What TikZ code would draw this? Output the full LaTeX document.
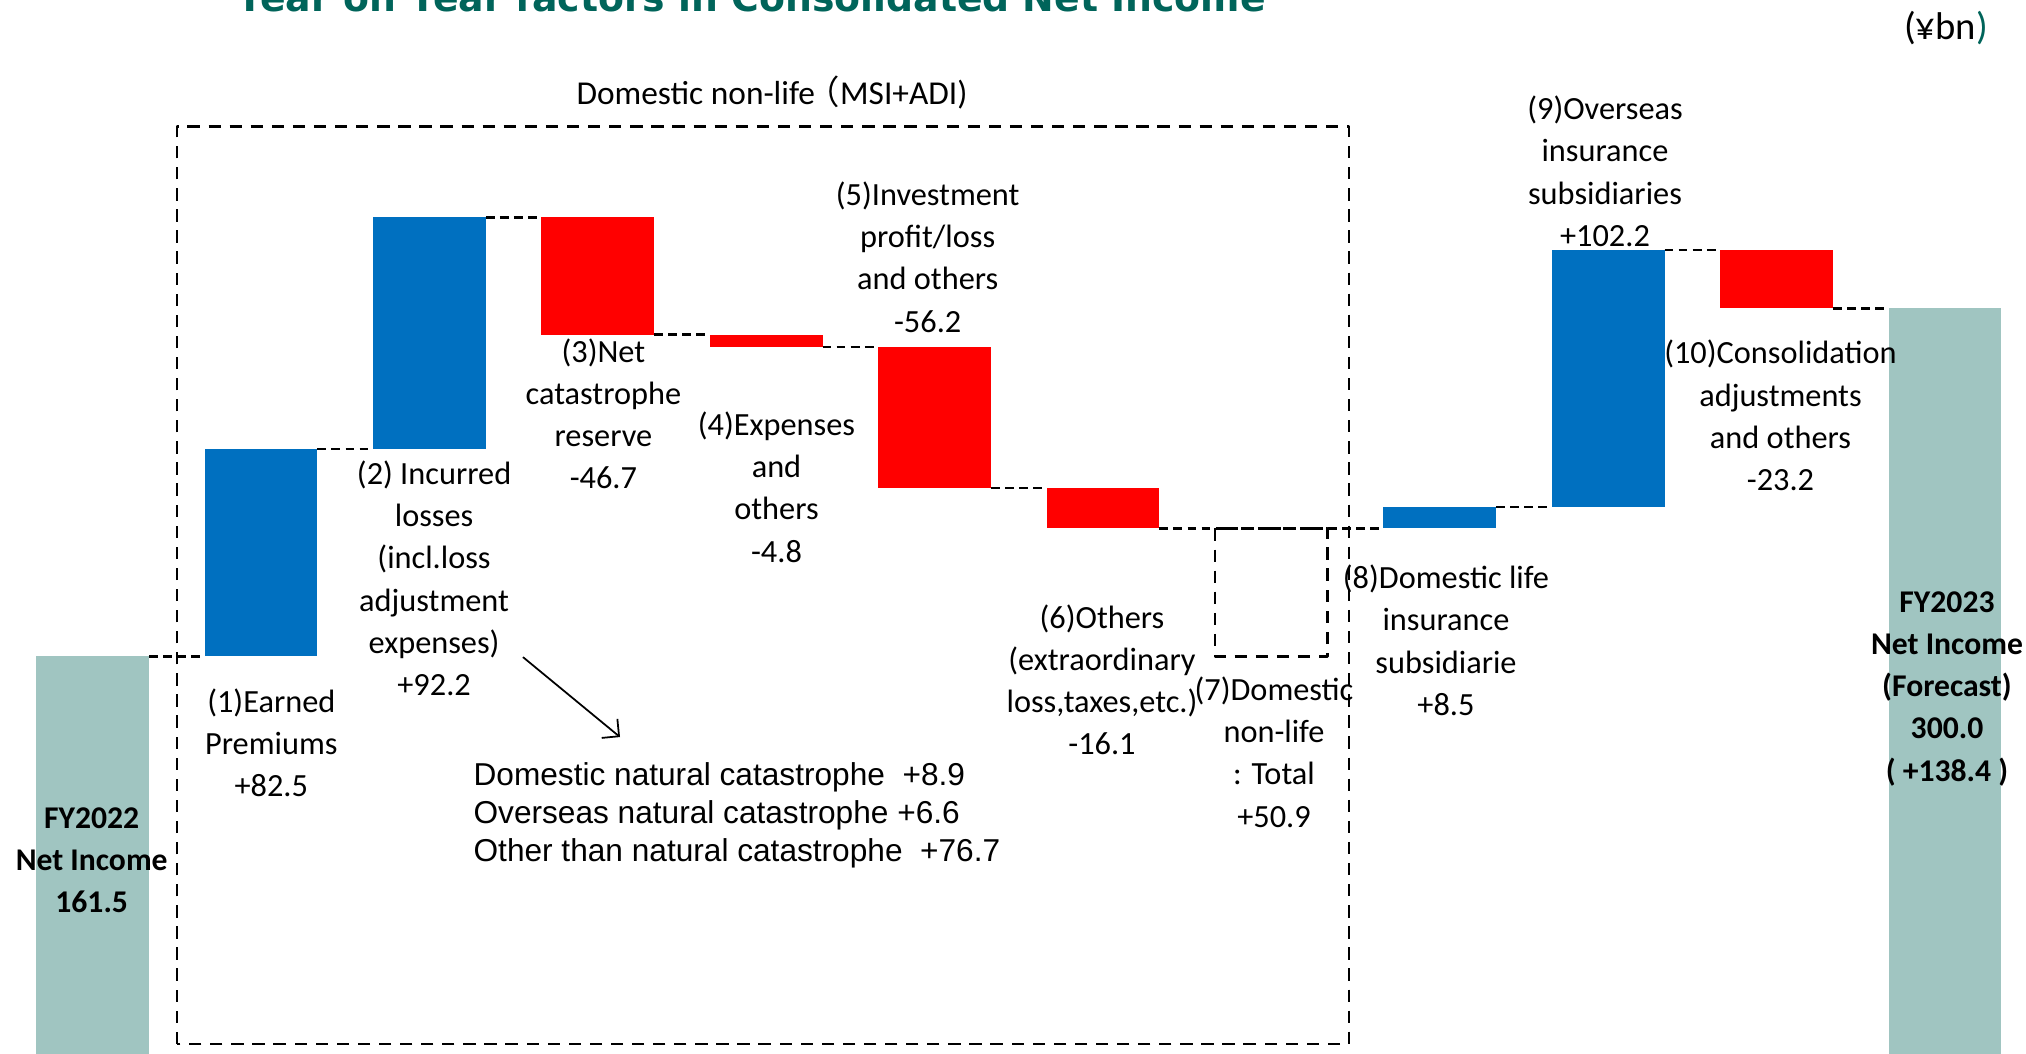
\documentclass[tikz,border=0pt]{standalone}
\usepackage{fontspec}
\setmainfont{Carlito}
\newfontfamily\arialfont{Liberation Sans}
\newfontfamily\titlefont{DejaVu Sans}
\newfontfamily\cjkfont{Noto Sans CJK JP}
\usetikzlibrary{arrows.meta}
\definecolor{gainblue}{HTML}{0070C0}
\definecolor{lossred}{HTML}{FF0000}
\definecolor{totalteal}{HTML}{A0C5C1}
\definecolor{titleteal}{HTML}{00645A}
\begin{document}
\begin{tikzpicture}[y=0.02513cm, line join=round, >={Straight Barb[length=3.5pt,width=7pt]},
	gainbar/.style={fill=gainblue},
	lossbar/.style={fill=lossred},
	totalbar/.style={fill=totalteal},
	link/.style={dash pattern=on 2.5pt off 1.5pt, line width=0.7pt},
	groupbox/.style={dash pattern=on 3.5pt off 2.5pt, line width=0.8pt},
	lbl/.style={font=\fontsize{9.2}{12}\selectfont, align=center, inner sep=0pt},
	totlbl/.style={font=\fontsize{9}{12}\selectfont\bfseries, align=center, inner sep=0pt}]
			\useasboundingbox (0,3.661) rectangle (20.26,422.68);
			\def\xo{0.362}
			\def\pitch{1.684}
			\def\bw{1.128}
			\foreach\i/\a/\b/\kind in {0/0/161.5/totalbar,1/161.5/244.0/gainbar,2/244.0/336.2/gainbar,3/336.2/289.5/lossbar,4/289.5/284.7/lossbar,5/284.7/228.5/lossbar,6/228.5/212.4/lossbar,8/212.4/220.9/gainbar,9/220.9/323.1/gainbar,10/323.1/300.0/lossbar,11/300.0/0/totalbar}
			{\coordinate (a\i) at ({\xo+\i*\pitch},\a);
				\coordinate (b\i) at ({\xo+\i*\pitch+\bw},\b);
				\fill[\kind] (a\i) rectangle (b\i);
			}
			\coordinate (a7) at ({\xo+7*\pitch},212.4);
			\coordinate (b7) at ({\xo+7*\pitch+\bw},161.5);
			\draw[groupbox] (a7) rectangle (b7);
			\foreach\i/\j in {0/1,1/2,2/3,3/4,4/5,5/6,6/8,8/9,9/10,10/11}
			\draw[link] (b\i)--(a\j);
			\draw[groupbox] (1.770,7.24) rectangle (13.489,372.3);
			\node[anchor=base, inner sep=0pt, text=titleteal, font=\titlefont\bfseries\fontsize{10.75}{13}\selectfont] (title) at (7.51,418.1) {Year on Year factors in Consolidated Net Income};
			\node[font=\fontsize{11}{13}\selectfont, inner sep=0pt] (unit) at (19.46,411.4) {(¥bn\textcolor{titleteal}{)}};
			\node[lbl, font=\fontsize{9.5}{12}\selectfont] (group) at (7.72,385.7) {Domestic non-life\hspace{-0.25em}{\cjkfont （}MSI+ADI)};
			\node[totlbl] (fy22) at (0.917,80.25) {FY2022\\Net Income\\161.5};
			\node[lbl] (lab1) at (2.713,127.0) {(1)Earned\\Premiums\\+82.5};
			\node[lbl] (lab2) at (4.341,192.6) {(2) Incurred\\losses\\(incl.loss\\adjustment\\expenses)\\+92.2};
			\node[lbl] (lab3) at (6.034,258.1) {(3)Net\\catastrophe\\reserve\\-46.7};
			\node[lbl] (lab4) at (7.765,228.85) {(4)Expenses\\and\\others\\-4.8};
			\node[lbl] (lab5) at (9.277,320.36) {(5)Investment\\profit/loss\\and others\\-56.2};
			\node[lbl] (lab6) at (11.02,152.2) {(6)Others\\(extraordinary\\loss,taxes,etc.)\\-16.1};
			\node[lbl] (lab7) at (12.74,123.43) {(7)Domestic\\non-life\\: Total\\+50.9};
			\node[lbl] (lab8) at (14.46,167.9) {(8)Domestic life\\insurance\\subsidiarie\\+8.5};
			\node[lbl] (lab9) at (16.05,354.55) {(9)Overseas\\insurance\\subsidiaries\\+102.2};
			\node[lbl] (lab10) at (17.805,257.38) {(10)Consolidation\\adjustments\\and others\\-23.2};
			\node[totlbl] (fy23) at (19.47,148.63) {FY2023\\Net Income\\(Forecast)\\300.0\\( +138.4 )};
			\node[anchor=west, align=left, inner sep=0pt, font=\arialfont\fontsize{9}{10.8}\selectfont] (cats) at (4.729,98.4) {Domestic natural catastrophe~~+8.9\\Overseas natural catastrophe +6.6\\Other than natural catastrophe~~+76.7};
			\coordinate (arrtail) at (5.23,161.2);
			\coordinate (arrhead) at (6.20,129.4);
			\draw[->, line width=0.5pt] (arrtail)--(arrhead);
		\end{tikzpicture}
\end{document}
